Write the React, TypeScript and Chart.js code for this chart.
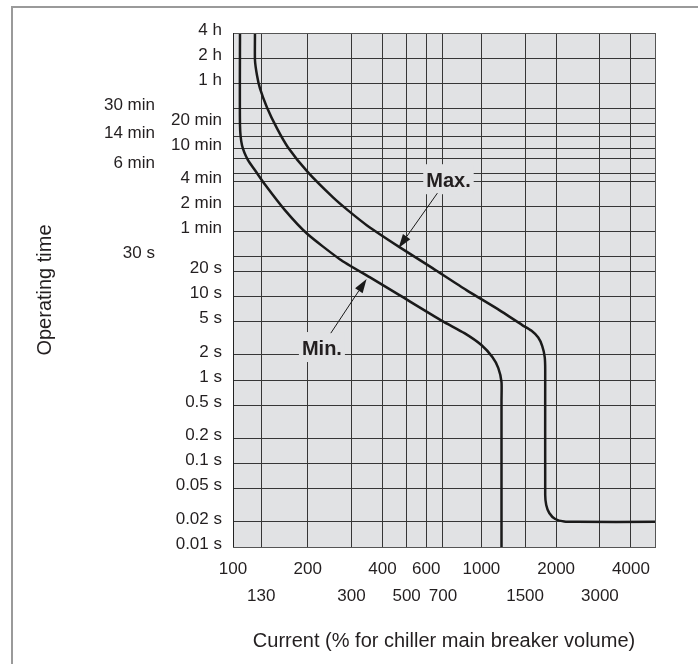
import React, { useEffect, useRef } from 'react';
import { Chart, registerables } from 'chart.js';

Chart.register(...registerables);

// ---- Data (current in % of breaker rating, operating time in seconds) ----
const minCurrent = [106.7, 106.7, 108.7, 114.9, 122.6, 134.5, 161.8, 198.3, 269, 354.9, 468, 697, 854.6, 1000, 1107, 1170, 1205, 1205, 1205];
const minTime = [14400, 1132, 652, 431, 327, 220, 108.6, 57, 28.1, 17.1, 10.42, 5.09, 3.65, 2.63, 1.886, 1.392, 0.946, 0.576, 0.01];

const maxCurrent = [122.6, 122.6, 124.9, 128.3, 136.9, 150.2, 166.3, 200.1, 252.1, 289.6, 345.3, 468, 635.8, 870.6, 1181, 1461, 1588, 1694, 1758, 1799, 1807, 1807, 1824, 1876, 1983, 2154, 2429, 5000];
const maxTime = [14400, 6798, 4495, 3141, 1860, 1042, 617, 309.7, 155.4, 108.6, 71.8, 39.2, 21.94, 11.96, 6.89, 4.56, 3.915, 3.228, 2.554, 1.886, 1.318, 0.04196, 0.03184, 0.02554, 0.02164, 0.0202, 0.02, 0.02];

// ---- Axis ticks ----
const xRow1Ticks = [100, 200, 400, 600, 1000, 2000, 4000];
const xRow2Ticks = [130, 300, 500, 700, 1500, 3000];

const yInnerTicks = [14400, 7200, 3600, 1200, 600, 240, 120, 60, 20, 10, 5, 2, 1, 0.5, 0.2, 0.1, 0.05, 0.02, 0.01];
const yInnerLabels = ['4 h', '2 h', '1 h', '20 min', '10 min', '4 min', '2 min', '1 min', '20 s', '10 s', '5 s', '2 s', '1 s', '0.5 s', '0.2 s', '0.1 s', '0.05 s', '0.02 s', '0.01 s'];
const yOuterTicks = [1800, 840, 360, 30];
const yOuterLabels = ['30 min', '14 min', '6 min', '30 s'];
const yExtraGridLines = [1800, 840, 450, 300, 30];

// ---- Annotations (data coordinates: current %, seconds) ----
const noteText = ['Max.', 'Min.'];
const noteCurrent = [737, 228];
const noteTime = [248, 2.42];
const arrowFromCurrent = [665, 247.6];
const arrowFromTime = [173.6, 3.65];
const arrowToCurrent = [464, 345];
const arrowToTime = [38.1, 16.2];

const FONT = "'Liberation Sans', Arial, Helvetica, sans-serif";
const PLOT_BG = '#e1e2e4';
const TEXT = '#231f20';
const GRID = '#363636';

export default function App() {
  const ref = useRef<HTMLCanvasElement>(null);

  useEffect(() => {
    if (!ref.current) return;
    const xGrid = [...xRow1Ticks, ...xRow2Ticks].sort((a, b) => a - b);
    const yGrid = [...yInnerTicks, ...yExtraGridLines].sort((a, b) => a - b);

    const plotPlugin = {
      id: 'plotDecor',
      beforeDraw(chart: any) {
        const { ctx, chartArea: a } = chart;
        ctx.save();
        ctx.fillStyle = PLOT_BG;
        ctx.fillRect(a.left, a.top, a.right - a.left, a.bottom - a.top);
        ctx.restore();
      },
      afterDatasetsDraw(chart: any) {
        const { ctx, chartArea: a } = chart;
        const xs = chart.scales.x;
        const ys = chart.scales.y;
        ctx.save();
        // plot frame
        ctx.strokeStyle = '#555';
        ctx.lineWidth = 1;
        ctx.strokeRect(Math.round(a.left) + 0.5, Math.round(a.top) + 0.5, Math.round(a.right - a.left), Math.round(a.bottom - a.top));
        ctx.strokeStyle = '#222';
        ctx.beginPath();
        ctx.moveTo(Math.round(a.left) + 0.5, a.top);
        ctx.lineTo(Math.round(a.left) + 0.5, a.bottom);
        ctx.stroke();

        ctx.font = `bold 20px ${FONT}`;
        ctx.textAlign = 'center';
        ctx.textBaseline = 'middle';
        for (let i = 0; i < noteText.length; i++) {
          const px = xs.getPixelForValue(noteCurrent[i]);
          const py = ys.getPixelForValue(noteTime[i]);
          const w = ctx.measureText(noteText[i]).width + 6;
          const h = 30;
          ctx.fillStyle = PLOT_BG;
          ctx.fillRect(px - w / 2, py - h / 2 - 1, w, h);
          ctx.fillStyle = TEXT;
          ctx.fillText(noteText[i], px, py + 1);

          const x0 = xs.getPixelForValue(arrowFromCurrent[i]);
          const y0 = ys.getPixelForValue(arrowFromTime[i]);
          const x1 = xs.getPixelForValue(arrowToCurrent[i]);
          const y1 = ys.getPixelForValue(arrowToTime[i]);
          const ang = Math.atan2(y1 - y0, x1 - x0);
          const len = 14;
          const hw = 4.5;
          const bx = x1 - len * Math.cos(ang);
          const by = y1 - len * Math.sin(ang);
          ctx.strokeStyle = '#1a1a1a';
          ctx.lineWidth = 1;
          ctx.beginPath();
          ctx.moveTo(x0, y0);
          ctx.lineTo(bx, by);
          ctx.stroke();
          ctx.fillStyle = '#1a1a1a';
          ctx.beginPath();
          ctx.moveTo(x1, y1);
          ctx.lineTo(bx + hw * Math.sin(ang), by - hw * Math.cos(ang));
          ctx.lineTo(bx - hw * Math.sin(ang), by + hw * Math.cos(ang));
          ctx.closePath();
          ctx.fill();
        }
        ctx.restore();
      },
    };

    const chart = new Chart(ref.current, {
      type: 'line',
      data: {
        datasets: [
          {
            label: 'Min.',
            data: minCurrent.map((c, i) => ({ x: c, y: minTime[i] })),
            borderColor: '#1a1a1a',
            borderWidth: 2.5,
            pointRadius: 0,
            tension: 0.2,
            fill: false,
            xAxisID: 'x',
            yAxisID: 'y',
          },
          {
            label: 'Max.',
            data: maxCurrent.map((c, i) => ({ x: c, y: maxTime[i] })),
            borderColor: '#1a1a1a',
            borderWidth: 2.5,
            pointRadius: 0,
            tension: 0.2,
            fill: false,
            xAxisID: 'x',
            yAxisID: 'y',
          },
        ],
      },
      options: {
        responsive: false,
        animation: false,
        events: [],
        layout: { padding: { left: 0, right: 43, top: 33, bottom: 0 } },
        plugins: { legend: { display: false }, tooltip: { enabled: false }, title: { display: false } },
        scales: {
          x: {
            type: 'logarithmic',
            position: 'bottom',
            min: 100,
            max: 5000,
            afterBuildTicks: (s: any) => {
              s.ticks = xGrid.map((v) => ({ value: v }));
            },
            afterFit: (s: any) => {
              s.height = 117;
            },
            grid: { color: GRID, lineWidth: 1, drawTicks: false },
            border: { display: false },
            ticks: {
              autoSkip: false,
              maxRotation: 0,
              minRotation: 0,
              padding: 9,
              color: TEXT,
              font: { family: FONT, size: 17, lineHeight: 1.6 },
              callback: (v: any) => {
                if (xRow1Ticks.includes(v)) return String(v);
                if (xRow2Ticks.includes(v)) return ['', String(v)];
                return '';
              },
            },
            title: {
              display: true,
              text: 'Current (% for chiller main breaker volume)',
              color: TEXT,
              font: { family: FONT, size: 20, lineHeight: 1.2 },
              padding: { top: 0, bottom: 11 },
            },
          },
          y: {
            type: 'logarithmic',
            position: 'left',
            weight: 0,
            min: 0.01,
            max: 14400,
            afterBuildTicks: (s: any) => {
              s.ticks = yGrid.map((v) => ({ value: v }));
            },
            afterFit: (s: any) => {
              s.width = 68;
            },
            grid: { color: GRID, lineWidth: 1, drawTicks: false },
            border: { display: false },
            ticks: {
              autoSkip: false,
              padding: 11,
              labelOffset: -3,
              color: TEXT,
              font: { family: FONT, size: 17 },
              callback: (v: any) => {
                const i = yInnerTicks.indexOf(v);
                return i >= 0 ? yInnerLabels[i] : '';
              },
            },
          },
          y2: {
            type: 'logarithmic',
            position: 'left',
            weight: 1,
            min: 0.01,
            max: 14400,
            afterBuildTicks: (s: any) => {
              s.ticks = yOuterTicks.map((v) => ({ value: v }));
            },
            afterFit: (s: any) => {
              s.width = 165;
            },
            grid: { display: false, drawTicks: false },
            border: { display: false },
            ticks: {
              autoSkip: false,
              padding: 10,
              labelOffset: -3,
              color: TEXT,
              font: { family: FONT, size: 17 },
              callback: (v: any) => {
                const i = yOuterTicks.indexOf(v);
                return i >= 0 ? yOuterLabels[i] : '';
              },
            },
            title: {
              display: true,
              text: 'Operating time',
              color: TEXT,
              font: { family: FONT, size: 20, lineHeight: 1.2 },
              padding: { top: 33, bottom: 0 },
            },
          },
        },
      } as any,
      plugins: [plotPlugin],
    });
    return () => chart.destroy();
  }, []);

  return (
    <div style={{ position: 'absolute', left: 0, top: 0, width: 698, height: 664, overflow: 'hidden', background: '#fff' }}>
      <div
        style={{
          position: 'absolute',
          left: 11,
          top: 6,
          width: 720,
          height: 700,
          borderLeft: '2px solid #9a9a9a',
          borderTop: '2px solid #9a9a9a',
        }}
      />
      <canvas ref={ref} width={698} height={664} style={{ position: 'absolute', left: 0, top: 0 }} />
    </div>
  );
}
